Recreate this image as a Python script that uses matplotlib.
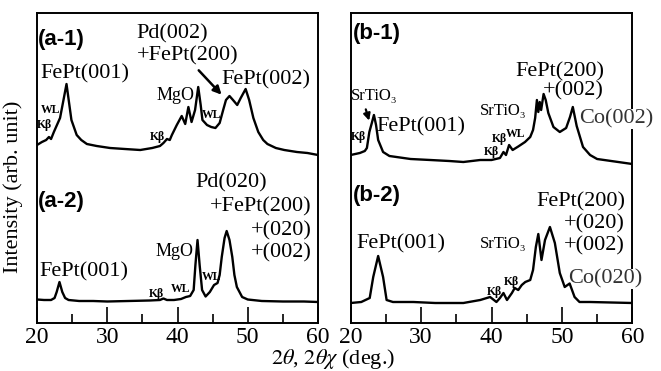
import matplotlib
matplotlib.use("Agg")
import matplotlib.pyplot as plt
from matplotlib.ticker import MultipleLocator

plt.rcParams['font.family'] = ['Liberation Serif', 'DejaVu Serif']
plt.rcParams['mathtext.fontset'] = 'stix'

# (a-1) FePt on Pd / MgO
a1_2theta = [20.0, 20.7, 21.3, 21.7, 22.0, 22.4, 23.28, 23.77, 24.2, 24.9, 25.65, 26.3, 27.1,
             28.5, 30.4, 32.5, 34.7, 36.4, 37.5, 38.0, 38.5, 38.9, 39.2, 39.9, 40.6, 41.1,
             41.55, 42.0, 42.5, 42.95, 43.3, 43.55, 44.2, 44.8, 45.4, 46.0, 46.5, 46.9, 47.4,
             47.9, 48.5, 49.0, 49.7, 50.2, 50.8, 51.5, 52.2, 52.8, 54.0, 55.2, 57.0, 58.5, 60.0]
a1_int = [178, 181, 183, 186, 184, 191, 205, 223, 239, 203, 188, 183, 179,
          177, 175, 174, 173, 175, 177, 180, 184, 183, 188, 198, 207, 199,
          216, 201, 213, 236, 218, 203, 198, 196, 195, 200, 213, 223, 227,
          223, 218, 225, 234, 223, 205, 191, 183, 179, 175, 173, 171, 170, 168]

# (a-2)
a2_2theta = [20.0, 21.0, 22.0, 22.5, 22.8, 23.2, 23.6, 24.0, 24.5, 26.0, 28.0, 30.0, 33.0,
             36.0, 37.5, 38.0, 38.5, 39.5, 40.5, 41.2, 41.8, 42.3, 42.55, 42.85, 43.15, 43.5,
             44.0, 44.6, 45.2, 45.7, 46.0, 46.3, 46.7, 47.0, 47.4, 47.8, 48.1, 48.45, 49.2,
             50.0, 52.0, 55.0, 58.0, 60.0]
a2_int = [23.5, 23, 23, 25, 31, 41, 31, 25, 23, 22, 22, 21.5, 22,
          22.5, 23, 24.5, 23, 23, 24, 26, 27, 33, 58, 83, 58, 33,
          26.5, 31, 38, 40, 48, 66, 85, 92, 83, 66, 48, 36, 26,
          23.5, 22, 21.5, 21.5, 21]

# (b-1) FePt on Co / SrTiO3
b1_2theta = [20.0, 21.3, 22.0, 22.3, 22.65, 23.0, 23.3, 23.6, 23.9, 24.6, 25.5, 26.5, 28.5,
             31.3, 34.0, 36.0, 38.4, 40.0, 41.2, 41.7, 42.06, 42.5, 43.0, 43.8, 44.76, 45.5,
             45.9, 46.2, 46.45, 46.65, 46.85, 47.05, 47.4, 47.7, 48.07, 48.8, 49.7, 50.6,
             51.15, 51.55, 52.1, 53.0, 54.0, 55.0, 57.0, 60.0]
b1_int = [168, 170, 172, 175, 191, 200, 208, 198, 183, 171, 167, 166, 164,
          163, 162, 161, 163, 163, 165, 171, 168, 178, 173, 176.5, 181, 186,
          193, 205, 223, 211, 221, 213, 229, 223, 210, 196, 191, 195,
          206, 216, 197, 176, 168, 164, 162, 159]

# (b-2)
b2_2theta = [20.0, 21.5, 22.7, 23.2, 23.9, 24.6, 25.1, 26.0, 28.9, 32.0, 36.0, 38.4, 39.8,
             40.7, 41.2, 41.7, 42.2, 42.9, 43.3, 43.8, 44.3, 44.8, 45.5, 45.9, 46.3, 46.65,
             47.1, 47.6, 48.3, 49.0, 49.7, 50.4, 51.1, 51.8, 52.5, 54.0, 57.0, 60.0]
b2_int = [20, 21, 25, 46, 67, 46, 23, 21, 21, 20, 20, 23, 26,
          21, 25, 30, 23, 30, 35, 33, 38, 41, 43, 53, 76, 89,
          63, 83, 96, 80, 50, 36, 39.5, 26, 21, 21, 20.5, 20]

W, H = 661, 371
fig = plt.figure(figsize=(W / 100, H / 100), dpi=100)
ax_a = fig.add_axes([37 / W, 1 - 323 / H, 281 / W, 310 / H])
ax_b = fig.add_axes([350.7 / W, 1 - 323 / H, 281.6 / W, 310 / H])

for ax, xs, ys in ((ax_a, a1_2theta, a1_int), (ax_a, a2_2theta, a2_int),
                   (ax_b, b1_2theta, b1_int), (ax_b, b2_2theta, b2_int)):
    ax.plot(xs, ys, color='black', lw=1.7, zorder=4)

for ax in (ax_a, ax_b):
    ax.set_xlim(20, 60)
    ax.set_ylim(0, 310)
    ax.set_yticks([])
    ax.xaxis.set_major_locator(MultipleLocator(10))
    ax.xaxis.set_minor_locator(MultipleLocator(5))
    ax.tick_params(axis='x', which='major', direction='in', length=11.5, width=1.2,
                   labelsize=17, pad=3)
    ax.tick_params(axis='x', which='minor', direction='in', length=6.5, width=1.2)
    for s in ax.spines.values():
        s.set_linewidth(1.4)

big = 16
mid = 13
sm = 8.5
panel = dict(fontsize=16, fontweight='bold', family='Liberation Sans', va='center', ha='left')
small = dict(fontsize=sm, fontweight='bold')

# (a-1) labels
ax_a.text(20.15, 284, '(a-1)', **panel)
ax_a.text(20.53, 244.7, 'FePt(001)', fontsize=big)
ax_a.text(34.2, 284.7, 'Pd(002)', fontsize=big)
ax_a.text(34.2, 263, '+FePt(200)', fontsize=big)
ax_a.text(46.3, 239, 'FePt(002)', fontsize=big)
ax_a.text(37.05, 223, 'MgO', fontsize=mid)
ax_a.text(20.6, 210, 'WL', **small)
ax_a.text(20.05, 195, 'Kβ', **small)
ax_a.text(36.1, 183, 'Kβ', **small)
ax_a.text(43.46, 204.7, 'WL', **small)
ax_a.annotate('', xy=(46.54, 226.3), xytext=(42.75, 254.7),
              arrowprops=dict(arrowstyle='-|>', color='black', lw=1.8, mutation_scale=12))

# (a-2) labels
ax_a.text(20.15, 121.3, '(a-2)', **panel)
ax_a.text(42.5, 136, 'Pd(020)', fontsize=big)
ax_a.text(59.13, 111.3, '+FePt(200)', fontsize=big, ha='right')
ax_a.text(59.13, 88, '+(020)', fontsize=big, ha='right')
ax_a.text(59.13, 65.7, '+(002)', fontsize=big, ha='right')
ax_a.text(20.33, 46.3, 'FePt(001)', fontsize=big)
ax_a.text(36.8, 67, 'MgO', fontsize=mid)
ax_a.text(35.95, 26.3, 'Kβ', **small)
ax_a.text(39.1, 31.3, 'WL', **small)
ax_a.text(43.46, 43, 'WL', **small)

# (b-1) labels
ax_b.text(20.28, 289, '(b-1)', **panel)
ax_b.text(43.34, 246.3, 'FePt(200)', fontsize=big)
ax_b.text(47.36, 228, '+(002)', fontsize=big)
ax_b.text(20.0, 223, 'SrTiO₃', fontsize=12)
ax_b.annotate('', xy=(22.74, 199.7), xytext=(22.03, 216.3),
              arrowprops=dict(arrowstyle='-|>', color='black', lw=1.6, mutation_scale=10))
ax_b.text(23.7, 191.3, 'FePt(001)', fontsize=big)
ax_b.text(20.0, 183, 'Kβ', **small)
ax_b.text(38.37, 208, 'SrTiO₃', fontsize=12)
ax_b.text(40.1, 181, 'Kβ', **small)
ax_b.text(42.05, 186, 'WL', **small)
ax_b.text(38.9, 168, 'Kβ', **small)
ax_b.text(52.5, 199.7, 'Co(002)', fontsize=big, color='#333333', zorder=3,
          bbox=dict(facecolor='white', edgecolor='none', pad=0.3))

# (b-2) labels
ax_b.text(20.28, 128, '(b-2)', **panel)
ax_b.text(58.95, 116.3, 'FePt(200)', fontsize=big, ha='right')
ax_b.text(58.95, 94.7, '+(020)', fontsize=big, ha='right')
ax_b.text(58.95, 73, '+(002)', fontsize=big, ha='right')
ax_b.text(20.85, 74.7, 'FePt(001)', fontsize=big)
ax_b.text(38.37, 74.7, 'SrTiO₃', fontsize=12)
ax_b.text(50.9, 39.7, 'Co(020)', fontsize=big, color='#333333', zorder=3,
          bbox=dict(facecolor='white', edgecolor='none', pad=0.3))
ax_b.text(39.3, 28, 'Kβ', **small)
ax_b.text(41.78, 38, 'Kβ', **small)

fig.text(333 / W, 1 - 364 / H, '$2\\theta$, $2\\theta\\chi$ (deg.)', fontsize=16,
         ha='center', va='baseline')
fig.text(13 / W, 1 - 186.5 / H, 'Intensity (arb. unit)', fontsize=16, rotation=90,
         ha='center', va='center')

fig.savefig('out.png', dpi=100)
